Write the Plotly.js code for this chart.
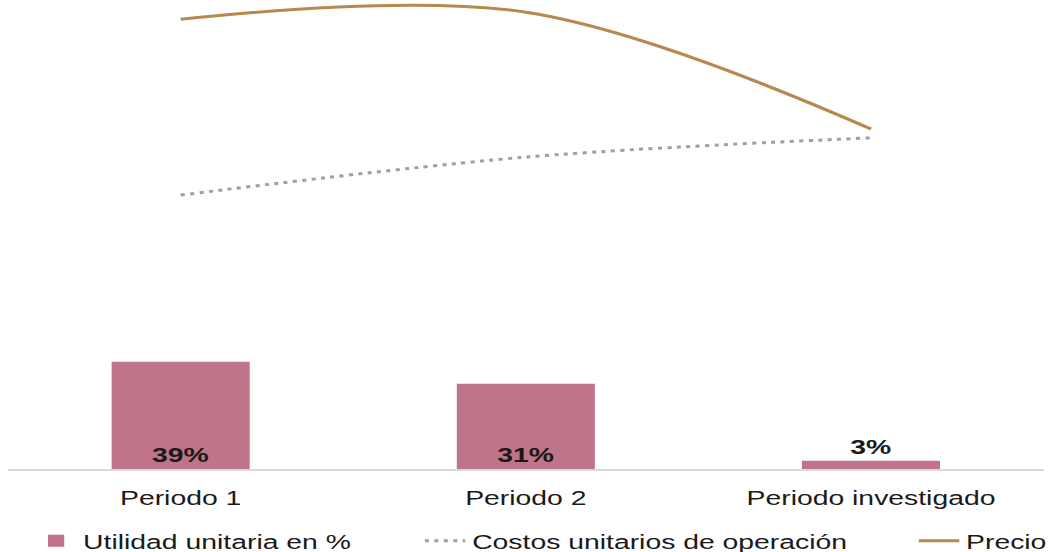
<!DOCTYPE html>
<html>
<head>
<meta charset="utf-8">
<script src="https://cdn.plot.ly/plotly-3.0.1.min.js"></script>
<style>
  html, body { margin: 0; padding: 0; background: #ffffff; overflow: hidden; }
  /* the reference picture is horizontally stretched; draw narrower and stretch the same way */
  #chart { width: 780px; height: 552px; transform: scaleX(1.35); transform-origin: 0 0; }
</style>
</head>
<body>
<div id="chart"></div>
<script>
// ---- data ----
const categories = ['Periodo 1', 'Periodo 2', 'Periodo investigado'];
const utilidad = [39, 31, 3];                 // % (bars)
const costos = [58.4, 66.5, 70.6];            // index (dotted line, secondary axis)
const precio = [95.9, 97.4, 72.5];            // index (solid line, secondary axis)
const seriesNames = ['Utilidad unitaria en %', 'Costos unitarios de operación', 'Precio'];

const FONT = 'Liberation Sans, Arial, sans-serif';
const TXT = '#1a1a1a';

const traces = [
  {
    type: 'bar',
    name: seriesNames[0],
    x: categories,
    y: utilidad,
    text: utilidad.map(v => v + '%'),
    textposition: 'auto',
    insidetextanchor: 'start',
    textangle: 0,
    textfont: { family: FONT, size: 21, color: TXT, weight: 'bold' },
    insidetextfont: { family: FONT, size: 21, color: TXT, weight: 'bold' },
    outsidetextfont: { family: FONT, size: 21, color: TXT, weight: 'bold' },
    cliponaxis: false,
    marker: { color: '#C0748A', line: { width: 0 } },
    width: 0.4,
    legend: 'legend',
    hoverinfo: 'skip'
  },
  {
    type: 'scatter',
    mode: 'lines',
    name: seriesNames[1],
    x: categories,
    y: costos,
    yaxis: 'y2',
    line: { color: '#A0A0A0', width: 3, dash: '3px,4px', shape: 'spline', smoothing: 1 },
    legend: 'legend2',
    hoverinfo: 'skip'
  },
  {
    type: 'scatter',
    mode: 'lines',
    name: seriesNames[2],
    x: categories,
    y: precio,
    yaxis: 'y2',
    line: { color: '#B8894F', width: 3, shape: 'spline', smoothing: 1 },
    legend: 'legend3',
    hoverinfo: 'skip'
  }
];

const legendCommon = {
  orientation: 'h',
  yanchor: 'middle',
  y: -0.1535,
  xanchor: 'left',
  bgcolor: 'rgba(0,0,0,0)',
  font: { family: FONT, size: 21, color: TXT }
};

const layout = {
  width: 780,
  height: 552,
  margin: { l: 6, r: 7, t: 0, b: 83, autoexpand: false },
  paper_bgcolor: '#ffffff',
  plot_bgcolor: '#ffffff',
  font: { family: FONT, color: TXT },
  showlegend: true,
  xaxis: {
    type: 'category',
    range: [-0.5, 2.5],
    showgrid: false,
    zeroline: false,
    showline: true,
    linecolor: '#D9D9D9',
    linewidth: 1.5,
    ticks: '',
    ticklabelstandoff: 9,
    tickfont: { family: FONT, size: 21, color: TXT },
    fixedrange: true
  },
  yaxis: {
    range: [0, 170.5],
    visible: false,
    showgrid: false,
    zeroline: false,
    fixedrange: true
  },
  yaxis2: {
    range: [0, 100],
    overlaying: 'y',
    side: 'right',
    visible: false,
    showgrid: false,
    zeroline: false,
    fixedrange: true
  },
  legend: Object.assign({}, legendCommon, { x: 0.0203 }),
  legend2: Object.assign({}, legendCommon, { x: 0.396 }),
  legend3: Object.assign({}, legendCommon, { x: 0.873 })
};

Plotly.newPlot('chart', traces, layout, { staticPlot: true, displayModeBar: false });
</script>
</body>
</html>
